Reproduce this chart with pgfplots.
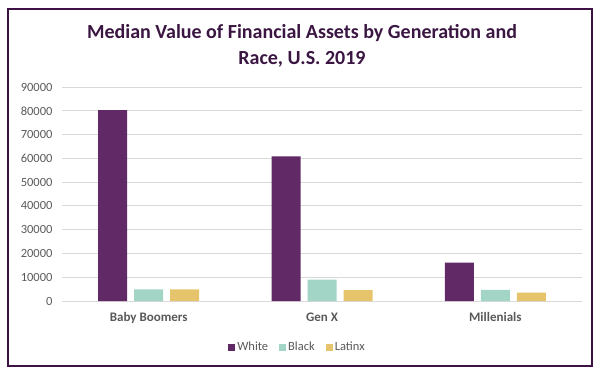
\documentclass[border=0pt]{standalone}
\usepackage{fontspec}
\setmainfont{Carlito}
\usepackage{pgfplots}
\pgfplotsset{compat=1.18}
\definecolor{cWhite}{HTML}{612A67}
\definecolor{cBlack}{HTML}{A2D5C6}
\definecolor{cLatinx}{HTML}{E6C46C}
\definecolor{frameC}{HTML}{3E1245}
\definecolor{titleC}{HTML}{3B1642}
\definecolor{txtC}{HTML}{595959}
\definecolor{gridC}{HTML}{D9D9D9}
\begin{document}
\begin{tikzpicture}
\path (0pt,0pt) rectangle (600pt,370pt);
\draw[frameC, line width=2.5pt] (8pt,4pt) rectangle (592pt,361pt);
\node[font=\fontsize{20}{26}\selectfont\bfseries, text=titleC, align=center] at (302pt,324pt) {Median Value of Financial Assets by Generation and\\Race, U.S. 2019};
\begin{axis}[
  at={(62pt,69pt)}, anchor=south west,
  scale only axis, width=520pt, height=214pt,
  ybar, bar width=29pt, ybar=7pt,
  xmin=-0.5, xmax=2.5, ymin=0, ymax=90000,
  xtick=data, xticklabels={Baby Boomers, Gen X, Millenials},
  ytick={0,10000,...,90000},
  scaled y ticks=false,
  yticklabel style={/pgf/number format/fixed, /pgf/number format/1000 sep={}, /pgf/number format/assume math mode=true,
    font=\fontsize{12.5}{14}\selectfont, xshift=-6pt, text=txtC},
  xticklabel style={font=\fontsize{13}{15}\selectfont\bfseries, yshift=-4pt, text=txtC},
  ymajorgrids, grid style={gridC, line width=0.8pt},
  axis line style={draw=none},
  major tick style={draw=none},
  legend style={at={(0.453,-0.215)}, anchor=center, draw=none, legend columns=3,
    font=\fontsize{12.5}{14}\selectfont, text=txtC,
    /tikz/every even column/.append style={column sep=9pt}},
  legend image code/.code={\fill[#1] (0pt,-3.5pt) rectangle (7pt,3.5pt);},
]
\addplot[fill=cWhite, draw=none] coordinates {(0,80300) (1,60800) (2,16100)};
\addplot[fill=cBlack, draw=none] coordinates {(0,4900) (1,9000) (2,4700)};
\addplot[fill=cLatinx, draw=none] coordinates {(0,4900) (1,4600) (2,3500)};
\legend{White, Black, Latinx}
\end{axis}
\end{tikzpicture}
\end{document}
